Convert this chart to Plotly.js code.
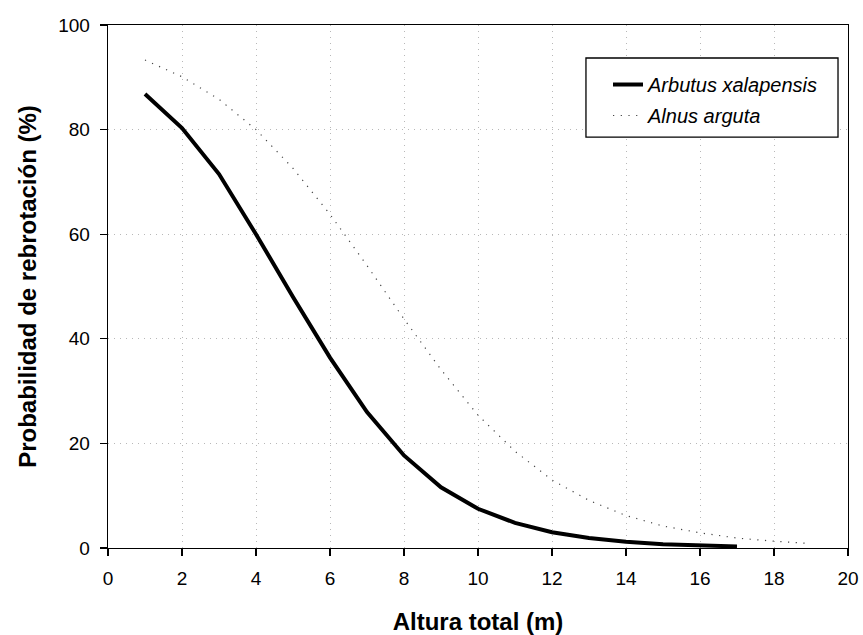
<!DOCTYPE html>
<html>
<head>
<meta charset="utf-8">
<script src="https://cdn.plot.ly/plotly-3.0.1.min.js"></script>
<style>html,body{margin:0;padding:0;background:#fff;}#chart{width:863px;height:635px;}</style>
</head>
<body>
<div id="chart"></div>
<script>
// Data
const arbutusX = [1,2,3,4,5,6,7,8,9,10,11,12,13,14,15,16,17];
const arbutusY = [86.8,80.3,71.5,60.0,48.0,36.4,26.0,17.7,11.6,7.5,4.8,3.0,1.9,1.2,0.7,0.45,0.3];
const alnusX = [1,2,3,4,5,6,7,8,9,10,11,12,13,14,15,16,17,18,19];
const alnusY = [93.3,90.1,85.8,80.0,72.6,63.8,54.0,43.8,34.1,25.4,18.5,13.0,9.1,6.2,4.2,2.9,1.9,1.3,0.85];
const seriesNames = ["Arbutus xalapensis", "Alnus arguta"];
const xTicks = [0,2,4,6,8,10,12,14,16,18,20];
const yTicks = [0,20,40,60,80,100];

const traces = [
  {x: arbutusX, y: arbutusY, name: seriesNames[0], legendgroup: 'a', type: 'scatter', mode: 'lines',
   line: {color: '#000', width: 4}},
  {x: alnusX, y: alnusY, name: seriesNames[1], legendgroup: 'b', type: 'scatter', mode: 'lines',
   line: {color: '#444', width: 1.2, dash: '1.2px,6.5px'}}
];

const font = {family: 'Liberation Sans, Arial, sans-serif', color: '#000'};
const layout = {
  width: 863, height: 635,
  margin: {l: 108, r: 15, t: 25, b: 87},
  paper_bgcolor: '#fff', plot_bgcolor: '#fff',
  font: Object.assign({size: 19}, font),
  showlegend: true,
  legend: {
    x: 0.6757, y: 0.9235, xanchor: 'left', yanchor: 'top',
    bgcolor: 'rgba(0,0,0,0)', borderwidth: 0,
    font: Object.assign({}, font, {size: 20, style: 'italic'}),
    traceorder: 'grouped', tracegroupgap: 2
  },
  shapes: [
    {type: 'rect', xref: 'paper', yref: 'paper', x0: 0.6459, x1: 0.9865, y0: 0.7858, y1: 0.9369,
     fillcolor: '#fff', line: {color: '#000', width: 1.3}, layer: 'above'}
  ],
  xaxis: {
    range: [0, 20], tickvals: xTicks, ticktext: xTicks.map(String),
    ticks: 'outside', ticklen: 7, tickwidth: 1.3, tickcolor: '#000',
    ticklabelstandoff: 6,
    showline: true, linecolor: '#000', linewidth: 1.3, mirror: true,
    showgrid: true, gridcolor: '#b8b8b8', griddash: '1px,5px', gridwidth: 1,
    zeroline: false,
    tickfont: Object.assign({}, font, {size: 19}),
    title: {text: '<b>Altura total (m)</b>', font: Object.assign({}, font, {size: 24}), standoff: 26}
  },
  yaxis: {
    range: [0, 100], tickvals: yTicks, ticktext: yTicks.map(String),
    ticks: 'outside', ticklen: 7, tickwidth: 1.3, tickcolor: '#000',
    ticklabelstandoff: 6,
    showline: true, linecolor: '#000', linewidth: 1.3, mirror: true,
    showgrid: true, gridcolor: '#b8b8b8', griddash: '1px,5px', gridwidth: 1,
    zeroline: false,
    tickfont: Object.assign({}, font, {size: 19}),
    title: {text: '<b>Probabilidad de rebrotación (%)</b>', font: Object.assign({}, font, {size: 24}), standoff: 14}
  }
};

Plotly.newPlot('chart', traces, layout, {displayModeBar: false, staticPlot: true});
</script>
</body>
</html>
